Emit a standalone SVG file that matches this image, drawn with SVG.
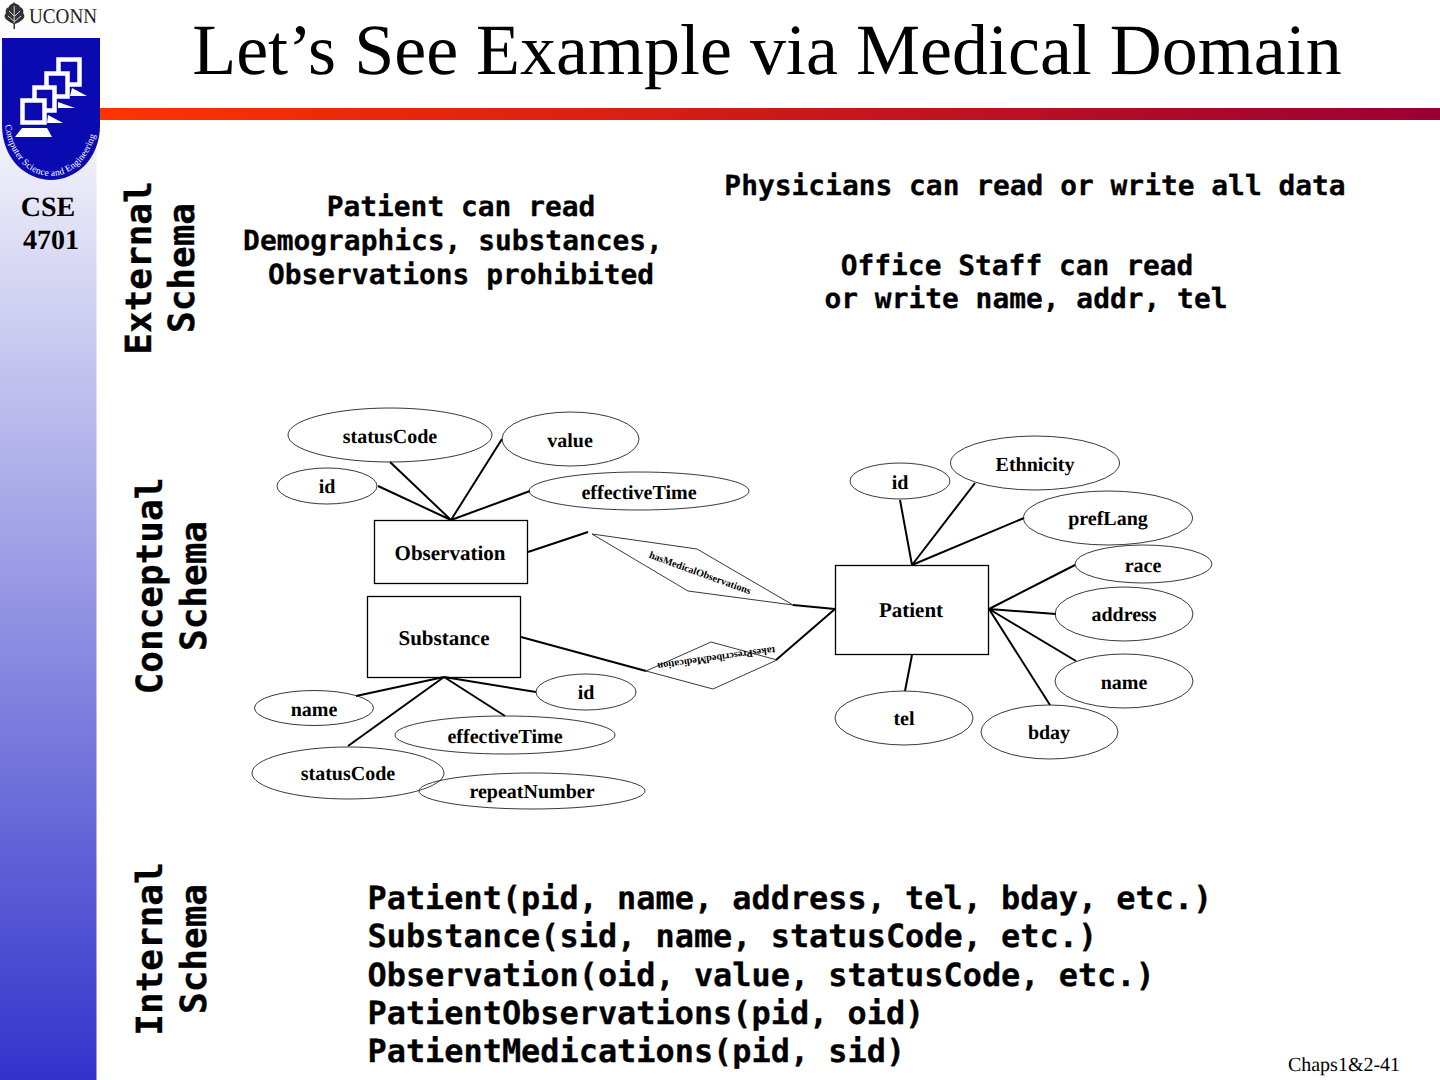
<svg xmlns="http://www.w3.org/2000/svg" width="1440" height="1080" viewBox="0 0 1440 1080" text-rendering="geometricPrecision">
<style>
text{text-rendering:geometricPrecision}
.t{font-family:"Liberation Serif",serif;font-weight:bold;font-size:20px;text-anchor:middle;fill:#000}
.e{font-size:21px}
.m{font-family:"DejaVu Sans Mono",monospace;font-weight:bold;fill:#000;stroke:#000;stroke-width:0.3;white-space:pre}
.s{font-size:27.900px;text-anchor:middle}
.r{font-size:36px;text-anchor:middle}
.i{font-size:31.900px}
.n{fill:none;stroke:#222;stroke-width:0.9}
.b{fill:none;stroke:#000;stroke-width:1.3}
.c{fill:none;stroke:#000;stroke-width:2}
.d{fill:none;stroke:#222;stroke-width:0.9}
.mon{fill:#0a0ab0;stroke:#fff;stroke-width:4.500}
</style>
<defs>
<linearGradient id="side" x1="0" y1="0" x2="0" y2="1"><stop offset="0" stop-color="#ffffff"/><stop offset="0.12" stop-color="#f4f4fb"/><stop offset="1" stop-color="#3333cc"/></linearGradient>
<linearGradient id="bar" x1="0" y1="0" x2="1" y2="0"><stop offset="0" stop-color="#ff3300"/><stop offset="1" stop-color="#990033"/></linearGradient>
</defs>
<rect width="1440" height="1080" fill="#fff"/>
<rect id="sidebar" x="0" y="0" width="96.500" height="1080" fill="url(#side)"/>
<rect x="100" y="108" width="1340" height="12" fill="url(#bar)"/>
<g id="logo">
<path d="M2 38H100V125C100 160 75 180 51 180C27 180 2 160 2 125Z" fill="#0a0ab0"/>
<path d="M72 88L87 96H70Z M58 102L75 108H58Z M48 115L63 123H47Z M22 128H47L52 137H15Z" fill="#fff"/>
<rect class="mon" x="58.500" y="59.500" width="21" height="25"/>
<rect class="mon" x="46.500" y="73.500" width="21" height="23"/>
<rect class="mon" x="34.500" y="87.500" width="20" height="23"/>
<rect class="mon" x="22.500" y="100.500" width="22" height="22"/>
<path id="arc" d="M5 125C9 158 30 176 51 176C72 176 93 158 98 122" fill="none"/>
<text font-family="Liberation Serif,serif" font-size="9.500" fill="#fff"><textPath href="#arc" textLength="140">Computer Science and Engineering</textPath></text>
</g>
<g id="uconn">
<text x="29" y="23" font-family="Liberation Serif,serif" font-size="21" fill="#222" textLength="68" lengthAdjust="spacingAndGlyphs">UCONN</text>
<path d="M14 2C12 5 9 4 9 7C6 8 5 11 6 13C4 15 4 18 7 20C9 22 12 23 13.500 24V29H15V24C17 23 20 22 22 20C25 18 25 15 23 13C24 11 23 8 20 7C20 4 16 5 14 2Z" fill="#333"/>
<path d="M14.200 6V23M9 11L14 16M20 11L15 16M8 16L14 21M21 16L15 21" stroke="#fff" stroke-width="0.800" fill="none"/>
</g>
<text class="t" style="font-size:28px" x="48" y="216">CSE</text>
<text class="t" style="font-size:28px" x="51" y="249">4701</text>
<text x="767" y="74" font-family="Liberation Serif,serif" font-size="72" text-anchor="middle">Let’s See Example via Medical Domain</text>
<g id="external-label"><text class="m r" transform="translate(151,268) rotate(-90)">External</text><text class="m r" transform="translate(194,268) rotate(-90)">Schema</text></g>
<g id="conceptual-label"><text class="m r" transform="translate(162,586) rotate(-90)">Conceptual</text><text class="m r" transform="translate(206,586) rotate(-90)">Schema</text></g>
<g id="internal-label"><text class="m r" transform="translate(162,949) rotate(-90)">Internal</text><text class="m r" transform="translate(206,949) rotate(-90)">Schema</text></g>
<g id="external-text">
<text class="m s" x="461" y="216">Patient can read</text>
<text class="m s" x="453" y="250">Demographics, substances,</text>
<text class="m s" x="461" y="284">Observations prohibited</text>
<text class="m s" x="1035" y="195">Physicians can read or write all data</text>
<text class="m s" x="1017" y="275">Office Staff can read</text>
<text class="m s" x="1026" y="308">or write name, addr, tel</text>
</g>
<g id="connectors">
<path class="c" d="M390 462L451 520M378 486L451 520M502 439L451 520M530 491L451 520"/>
<path class="c" d="M528 552L588 532"/>
<path class="c" d="M793 605L835 609M521 637L646 671M776 660L835 609"/>
<path class="c" d="M900 500L912 565M975 483L912 565M1024 518L912 565"/>
<path class="c" d="M989 609L1075 565M989 609L1056 614M989 609L1076 661M989 609L1050 705M912 655L905 691"/>
<path class="c" d="M444 677L356 696M444 677L348 746M444 677L505 716M444 677L536 692"/>
</g>
<g id="statusCode1"><ellipse class="n" cx="390" cy="435" rx="102" ry="27"/><text class="t" x="390" y="443">statusCode</text></g>
<g id="value"><ellipse class="n" cx="570.500" cy="439" rx="68.500" ry="27"/><text class="t" x="570" y="447">value</text></g>
<g id="id1"><ellipse class="n" cx="327" cy="486" rx="50" ry="18"/><text class="t" x="327" y="493">id</text></g>
<g id="effectiveTime1"><ellipse class="n" cx="639" cy="491" rx="110" ry="19"/><text class="t" x="639" y="499">effectiveTime</text></g>
<g id="Observation"><rect class="b" x="374.500" y="520.500" width="153" height="63"/><text class="t e" x="450" y="560">Observation</text></g>
<g id="Substance"><rect class="b" x="367.500" y="596.500" width="153" height="81"/><text class="t e" x="444" y="645">Substance</text></g>
<g id="hasMedicalObservations"><path class="d" d="M592 534L697 549L793 605L688 591Z"/><text transform="translate(699,576) rotate(20)" text-anchor="middle" font-family="Liberation Serif,serif" font-weight="bold" font-size="10.200">hasMedicalObservations</text></g>
<g id="takesPrescribedMedication"><path class="d" d="M646 671L711 642L777 660L713 689Z"/><text transform="translate(716,655) rotate(172)" text-anchor="middle" font-family="Liberation Serif,serif" font-weight="bold" font-size="10.200">takesPrescribedMedication</text></g>
<g id="name1"><ellipse class="n" cx="314" cy="708" rx="59.500" ry="17.500"/><text class="t" x="314" y="716">name</text></g>
<g id="id2"><ellipse class="n" cx="586" cy="692" rx="50" ry="18"/><text class="t" x="586" y="699">id</text></g>
<g id="effectiveTime2"><ellipse class="n" cx="505" cy="735" rx="110" ry="19"/><text class="t" x="505" y="743">effectiveTime</text></g>
<g id="repeatNumber"><ellipse class="n" cx="532" cy="791" rx="113" ry="18"/><text class="t" x="532" y="798">repeatNumber</text></g>
<g id="statusCode2"><ellipse class="n" cx="348" cy="773" rx="96" ry="26"/><text class="t" x="348" y="780">statusCode</text></g>
<g id="Patient"><rect class="b" x="835.500" y="565.500" width="153" height="89"/><text class="t e" x="911" y="617">Patient</text></g>
<g id="id3"><ellipse class="n" cx="900" cy="481" rx="50" ry="18"/><text class="t" x="900" y="489">id</text></g>
<g id="Ethnicity"><ellipse class="n" cx="1035" cy="463" rx="84.500" ry="27"/><text class="t" x="1035" y="471">Ethnicity</text></g>
<g id="prefLang"><ellipse class="n" cx="1108" cy="518" rx="84.500" ry="27"/><text class="t" x="1108" y="525">prefLang</text></g>
<g id="race"><ellipse class="n" cx="1143.500" cy="564" rx="68.500" ry="19"/><text class="t" x="1143" y="572">race</text></g>
<g id="address"><ellipse class="n" cx="1124" cy="614" rx="69" ry="27"/><text class="t" x="1124" y="621">address</text></g>
<g id="name2"><ellipse class="n" cx="1124" cy="681" rx="69" ry="27"/><text class="t" x="1124" y="689">name</text></g>
<g id="bday"><ellipse class="n" cx="1049.500" cy="732" rx="68.500" ry="27"/><text class="t" x="1049" y="739">bday</text></g>
<g id="tel"><ellipse class="n" cx="904" cy="718" rx="69" ry="27"/><text class="t" x="904" y="725">tel</text></g>
<g id="internal-text">
<text class="m i" x="367.500" y="909">Patient(pid, name, address, tel, bday, etc.)</text>
<text class="m i" x="367.500" y="947">Substance(sid, name, statusCode, etc.)</text>
<text class="m i" x="367.500" y="986">Observation(oid, value, statusCode, etc.)</text>
<text class="m i" x="367.500" y="1024">PatientObservations(pid, oid)</text>
<text class="m i" x="367.500" y="1062">PatientMedications(pid, sid)</text>
</g>
<text x="1344" y="1071" font-family="Liberation Serif,serif" font-size="20" text-anchor="middle">Chaps1&amp;2-41</text>
</svg>
